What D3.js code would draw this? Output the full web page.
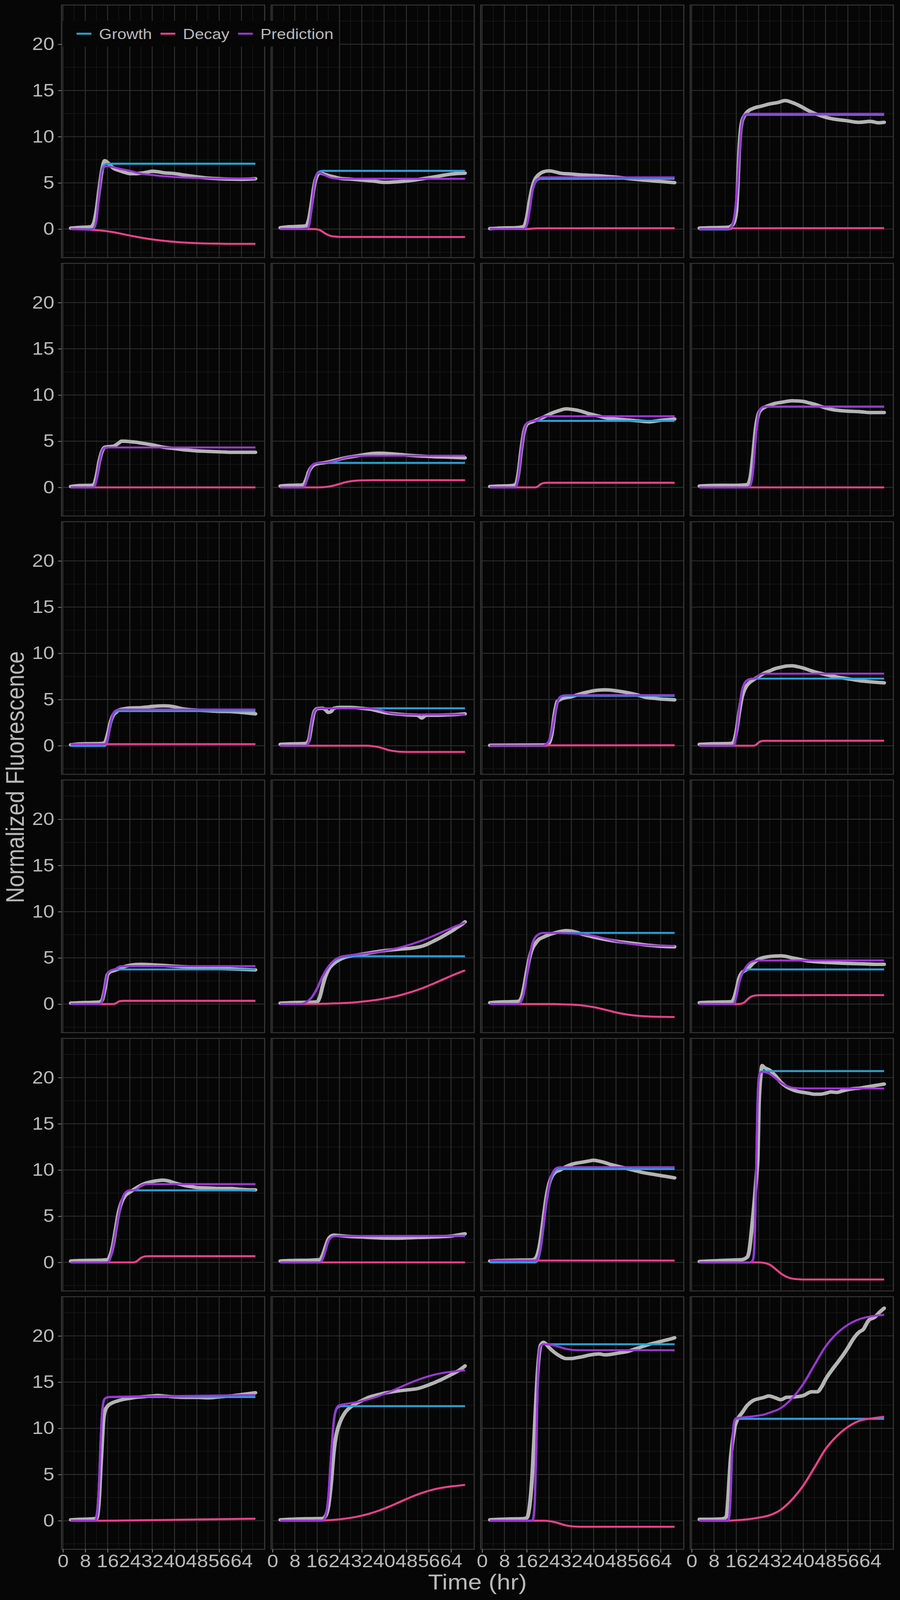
<!DOCTYPE html>
<html>
<head>
<meta charset="utf-8">
<script src="https://cdn.jsdelivr.net/npm/d3@7"></script>
<style>
  html, body { margin: 0; padding: 0; background: #060606; overflow: hidden; }
  svg { display: block; }
</style>
</head>
<body>
<div id="chart"></div>
<script>
// ---- data: one entry per panel (4 x 6 facets), points are [hour, fluorescence] ----
const observed = [
  [[2.8,0.1],[6,0.18],[9,0.22],[10,0.25],[11,0.6],[12,2.0],[13,4.3],[14,6.4],[15,7.4],[16,7.2],[17,6.9],[18,6.6],[20,6.35],[22,6.15],[24,6.0],[26,6.0],[28,6.05],[30,6.15],[32,6.25],[34,6.2],[36,6.1],[40,6.0],[44,5.82],[48,5.65],[52,5.52],[56,5.45],[60,5.4],[64,5.38],[69,5.45]],
  [[2.8,0.15],[6,0.25],[10,0.3],[12,0.35],[13,1.0],[14,2.8],[15,4.8],[16,5.8],[17,6.1],[18,6.0],[20,5.8],[22,5.65],[24,5.5],[28,5.4],[32,5.3],[36,5.2],[40,5.05],[44,5.1],[48,5.2],[52,5.35],[56,5.55],[60,5.75],[64,5.95],[69,6.05]],
  [[2.8,0.05],[8,0.12],[12,0.15],[15,0.3],[16,1.2],[17,3.0],[18,4.5],[19,5.4],[20,5.8],[21,6.05],[22,6.2],[24,6.3],[26,6.2],[28,6.05],[32,5.95],[36,5.85],[40,5.8],[44,5.72],[48,5.62],[52,5.48],[56,5.35],[60,5.25],[64,5.15],[69,5.02]],
  [[2.8,0.1],[6,0.15],[10,0.17],[13,0.2],[14,0.3],[15,0.6],[16,1.9],[16.5,4.5],[17,8.3],[17.5,10.5],[18,11.6],[19,12.3],[20,12.7],[22,13.05],[25,13.3],[28,13.55],[31,13.7],[33.5,13.9],[36,13.7],[39,13.3],[42,12.8],[45,12.4],[48,12.1],[51,11.9],[55,11.75],[60,11.55],[64,11.65],[67,11.5],[69,11.55]],
  [[2.8,0.1],[6,0.2],[10,0.22],[11,0.3],[12,1.2],[13,2.8],[14,3.9],[15,4.35],[16,4.4],[18,4.45],[20,4.8],[21,5.0],[22,5.0],[24,4.95],[26,4.9],[28,4.8],[32,4.6],[36,4.35],[40,4.2],[44,4.05],[48,3.95],[52,3.9],[56,3.85],[60,3.8],[64,3.8],[69,3.8]],
  [[2.8,0.15],[6,0.22],[10,0.25],[11,0.3],[12,0.8],[13,1.7],[14,2.2],[15,2.45],[16,2.55],[18,2.65],[20,2.75],[22,2.9],[24,3.05],[26,3.2],[28,3.3],[30,3.4],[32,3.5],[34,3.6],[38,3.7],[42,3.65],[46,3.55],[50,3.45],[54,3.38],[58,3.32],[62,3.28],[66,3.23],[69,3.2]],
  [[2.8,0.1],[6,0.15],[10,0.18],[12,0.3],[13,1.5],[14,4.0],[15,6.0],[16,6.8],[17,7.0],[18,7.1],[20,7.35],[22,7.6],[24,7.9],[26,8.15],[28,8.35],[30,8.5],[32,8.45],[34,8.35],[36,8.2],[38,8.0],[40,7.85],[42,7.7],[44,7.55],[46,7.45],[48,7.4],[52,7.3],[56,7.2],[60,7.1],[64,7.25],[69,7.4]],
  [[2.8,0.15],[6,0.2],[10,0.22],[14,0.22],[18,0.25],[20,0.3],[21,1.0],[22,3.5],[23,6.5],[24,8.0],[25,8.45],[26,8.65],[28,8.9],[30,9.1],[32,9.2],[34,9.3],[36,9.37],[38,9.35],[40,9.3],[42,9.15],[44,9.0],[46,8.8],[48,8.6],[50,8.45],[52,8.35],[56,8.25],[60,8.2],[64,8.1],[69,8.1]],
  [[2.8,0.1],[6,0.2],[10,0.22],[14,0.25],[15,0.35],[16,1.2],[17,2.5],[18,3.3],[19,3.6],[20,3.85],[22,4.0],[24,4.08],[26,4.1],[28,4.12],[30,4.18],[32,4.25],[34,4.3],[36,4.32],[38,4.3],[40,4.2],[42,4.05],[44,3.95],[48,3.85],[52,3.78],[56,3.72],[60,3.7],[64,3.6],[69,3.45]],
  [[2.8,0.15],[6,0.2],[10,0.22],[12,0.25],[13,0.6],[14,2.3],[15,3.7],[16,4.0],[18,4.05],[19,3.9],[20,3.6],[21,3.7],[22,4.05],[24,4.15],[28,4.15],[32,4.05],[36,3.9],[38,3.75],[40,3.6],[44,3.45],[48,3.35],[52,3.3],[53.5,3.0],[55,3.3],[58,3.3],[62,3.33],[66,3.38],[69,3.45]],
  [[2.8,0.05],[8,0.06],[14,0.07],[20,0.08],[23,0.1],[24,0.3],[25,1.3],[26,3.5],[27,4.8],[28,5.0],[30,5.2],[32,5.3],[34,5.5],[36,5.68],[38,5.82],[40,5.95],[42,6.02],[44,6.05],[46,6.02],[48,5.95],[50,5.85],[52,5.75],[54,5.62],[56,5.47],[58,5.28],[60,5.18],[62,5.12],[64,5.05],[66,5.02],[69,4.97]],
  [[2.8,0.15],[6,0.2],[10,0.22],[14,0.25],[15,0.4],[16,1.5],[17,3.5],[18,5.2],[19,6.1],[20,6.6],[22,7.1],[24,7.5],[26,7.85],[28,8.1],[30,8.35],[32,8.5],[34,8.62],[36,8.65],[38,8.55],[40,8.4],[42,8.2],[44,8.0],[46,7.85],[48,7.7],[52,7.45],[56,7.25],[60,7.05],[64,6.92],[69,6.8]],
  [[2.8,0.1],[6,0.15],[10,0.18],[13,0.22],[14,0.4],[15,1.6],[16,3.2],[17,3.5],[18,3.6],[20,3.8],[22,4.05],[24,4.2],[26,4.28],[28,4.3],[30,4.28],[32,4.25],[36,4.18],[40,4.1],[44,4.03],[48,3.97],[52,3.9],[56,3.85],[60,3.8],[64,3.75],[69,3.7]],
  [[2.8,0.1],[6,0.15],[10,0.18],[14,0.2],[16,0.25],[17,0.8],[18,2.0],[19,3.0],[20,3.7],[22,4.4],[24,4.8],[26,5.05],[28,5.2],[30,5.3],[32,5.4],[34,5.5],[36,5.6],[38,5.7],[40,5.78],[44,5.9],[48,6.0],[50,6.05],[52,6.15],[54,6.3],[56,6.55],[58,6.85],[60,7.15],[62,7.5],[64,7.85],[66,8.25],[68,8.65],[69,8.9]],
  [[2.8,0.15],[6,0.22],[10,0.25],[13,0.3],[14,0.6],[15,1.8],[16,3.5],[17,5.0],[18,6.0],[19,6.5],[20,6.9],[22,7.25],[24,7.5],[26,7.7],[28,7.85],[30,7.95],[32,7.9],[34,7.75],[36,7.55],[38,7.4],[40,7.25],[44,7.0],[48,6.8],[52,6.65],[56,6.5],[60,6.35],[64,6.25],[69,6.2]],
  [[2.8,0.15],[6,0.2],[10,0.22],[14,0.25],[15,0.5],[16,1.5],[17,2.8],[18,3.4],[19,3.6],[20,3.8],[22,4.4],[24,4.85],[26,5.05],[28,5.15],[30,5.2],[32,5.22],[34,5.15],[36,5.0],[38,4.9],[40,4.75],[42,4.65],[46,4.55],[50,4.48],[54,4.42],[58,4.38],[62,4.35],[66,4.3],[69,4.3]],
  [[2.8,0.15],[6,0.2],[10,0.22],[14,0.25],[16,0.3],[17,0.8],[18,2.0],[19,3.8],[20,5.5],[21,6.5],[22,7.1],[24,7.6],[26,8.0],[28,8.35],[30,8.6],[32,8.75],[34,8.85],[36,8.9],[38,8.8],[40,8.6],[42,8.45],[44,8.3],[46,8.2],[48,8.1],[52,8.05],[56,8.0],[60,8.0],[64,7.9],[69,7.85]],
  [[2.8,0.15],[6,0.2],[10,0.22],[14,0.25],[17,0.3],[18,0.8],[19,1.7],[20,2.5],[21,2.85],[22,2.95],[24,2.9],[28,2.8],[32,2.75],[36,2.68],[40,2.63],[44,2.62],[48,2.65],[52,2.7],[56,2.73],[60,2.78],[64,2.85],[67,3.0],[69,3.1]],
  [[2.8,0.15],[6,0.2],[10,0.22],[14,0.25],[18,0.28],[19,0.4],[20,1.0],[21,2.5],[22,4.8],[23,7.0],[24,8.5],[25,9.3],[26,9.7],[28,10.0],[30,10.35],[32,10.6],[34,10.75],[36,10.85],[38,10.95],[40,11.05],[42,10.95],[44,10.8],[46,10.6],[48,10.45],[50,10.3],[52,10.15],[54,10.0],[56,9.85],[58,9.7],[60,9.6],[62,9.5],[64,9.4],[66,9.3],[69,9.15]],
  [[2.8,0.1],[6,0.15],[10,0.2],[14,0.25],[18,0.3],[20,0.6],[20.6,1.2],[21.6,3.8],[22.6,7.0],[23.2,9.3],[23.7,11.5],[24.1,17.0],[24.7,20.0],[25.3,21.3],[26,21.1],[28,20.8],[30,20.2],[32,19.5],[34,19.0],[36,18.7],[38,18.5],[40,18.4],[42,18.3],[44,18.2],[46,18.2],[48,18.3],[50,18.45],[52,18.4],[54,18.55],[56,18.7],[58,18.8],[60,18.85],[62,18.95],[64,19.05],[66,19.15],[69,19.3]],
  [[2.8,0.1],[6,0.15],[10,0.2],[12,0.25],[12.5,0.8],[13,2.5],[13.5,5.5],[14,8.2],[14.5,10.8],[15,11.8],[16,12.4],[18,12.8],[20,13.0],[22,13.15],[24,13.25],[26,13.35],[28,13.4],[30,13.45],[32,13.5],[34,13.55],[36,13.5],[38,13.45],[40,13.4],[44,13.35],[48,13.35],[52,13.3],[56,13.4],[60,13.5],[64,13.65],[69,13.85]],
  [[2.8,0.1],[6,0.15],[10,0.2],[14,0.22],[18,0.25],[19,0.5],[20,1.5],[21,4.0],[22,7.5],[23,9.5],[24,10.5],[26,11.7],[28,12.3],[30,12.7],[32,13.0],[34,13.3],[36,13.5],[38,13.65],[40,13.8],[44,14.0],[48,14.15],[52,14.3],[56,14.7],[60,15.2],[64,15.8],[67,16.3],[69,16.75]],
  [[2.8,0.1],[6,0.15],[10,0.2],[14,0.22],[16,0.3],[17,1.5],[18,5.0],[19,11.0],[20,16.5],[21,19.0],[22,19.3],[23,19.1],[24,18.75],[26,18.2],[28,17.8],[30,17.55],[32,17.55],[34,17.65],[36,17.75],[38,17.9],[40,18.0],[42,18.05],[44,17.95],[46,18.0],[48,18.1],[50,18.2],[52,18.3],[54,18.5],[56,18.7],[58,18.9],[60,19.1],[62,19.25],[64,19.4],[66,19.55],[69,19.8]],
  [[2.8,0.15],[6,0.15],[10,0.18],[12,0.3],[12.5,0.5],[13,2.1],[13.5,4.6],[14,6.8],[14.5,8.2],[15,9.3],[15.5,10.2],[16.3,10.9],[18,11.65],[20,12.5],[22,13.0],[24,13.2],[26,13.35],[27.6,13.5],[30,13.3],[32,13.1],[34,13.35],[37,13.4],[40,13.55],[43,13.95],[45,13.95],[46.6,14.5],[48,15.3],[50,16.2],[52,17.0],[54,17.8],[56,18.7],[58,19.7],[60,20.4],[61.5,20.7],[63.5,21.7],[65.5,22.0],[67.5,22.6],[69,23.0]]
];

const growth = [
  [[2.8,0],[10,0],[11,0.1],[12,1.0],[13,4.0],[14,6.5],[15,7.0],[16,7.07],[69,7.07]],
  [[2.8,0],[12,0],[13,0.3],[14,2.2],[15,4.8],[16,6.0],[17,6.25],[18,6.3],[69,6.3]],
  [[2.8,0],[15,0],[16,0.4],[17,2.0],[18,4.0],[19,5.0],[20,5.35],[21,5.44],[69,5.44]],
  [[2.8,-0.05],[13,-0.05],[14,0.1],[15,0.8],[16,3.1],[16.5,5.0],[17,7.6],[17.5,9.8],[18,11.4],[18.5,12.0],[19,12.25],[20,12.37],[69,12.37]],
  [[2.8,0],[11,0],[12,0.8],[13,2.6],[14,3.9],[15,4.28],[16,4.32],[69,4.32]],
  [[2.8,0],[11,0],[12,0.5],[13,1.6],[14,2.3],[15,2.55],[16,2.63],[17,2.65],[69,2.65]],
  [[2.8,0],[12,0],[13,1.2],[14,3.8],[15,6.0],[16,6.9],[17,7.1],[18,7.2],[69,7.2]],
  [[2.8,0],[20,0],[21,0.2],[22,1.8],[23,5.5],[24,8.0],[25,8.6],[26,8.74],[69,8.74]],
  [[2.8,-0.02],[15,-0.02],[16,0.6],[17,2.2],[18,3.3],[19,3.65],[20,3.75],[69,3.75]],
  [[2.8,0],[12,0],[13,0.5],[14,2.5],[15,3.7],[16,4.0],[17,4.05],[69,4.05]],
  [[2.8,0],[22,0],[23,0.15],[24,0.5],[25,1.5],[26,3.2],[27,4.6],[28,5.2],[29,5.35],[30,5.4],[69,5.4]],
  [[2.8,0],[15,0],[16,1.2],[17,3.8],[18,5.9],[19,6.8],[20,7.1],[21,7.22],[22,7.26],[69,7.26]],
  [[2.8,0],[13,0],[14,0.3],[15,1.8],[16,3.3],[17,3.6],[18,3.72],[19,3.75],[69,3.75]],
  [[2.8,0],[10,0],[12,0.2],[14,0.7],[16,1.7],[18,3.0],[20,4.0],[22,4.65],[24,4.98],[26,5.1],[28,5.15],[30,5.17],[69,5.17]],
  [[2.8,0],[13,0],[14,0.3],[15,1.2],[16,3.0],[17,5.0],[18,6.5],[19,7.2],[20,7.5],[21,7.65],[22,7.7],[69,7.7]],
  [[2.8,0],[15,0],[16,0.8],[17,2.3],[18,3.2],[19,3.6],[20,3.72],[21,3.75],[69,3.75]],
  [[2.8,0],[16,0],[17,0.5],[18,1.8],[19,3.5],[20,5.2],[21,6.6],[22,7.4],[23,7.7],[24,7.8],[69,7.8]],
  [[2.8,0],[17,0],[18,0.4],[19,1.3],[20,2.3],[21,2.7],[22,2.82],[23,2.85],[69,2.85]],
  [[2.8,0],[19,0],[20,0.3],[21,1.5],[22,3.8],[23,6.3],[24,8.2],[25,9.3],[26,9.85],[27,10.05],[28,10.1],[69,10.1]],
  [[2.8,0],[21,0],[22,0.3],[22.5,2.0],[23,8.0],[23.5,16.0],[24,19.8],[24.5,20.5],[25,20.65],[26,20.7],[69,20.7]],
  [[2.8,0],[11.5,0],[12,0.3],[12.5,1.5],[13,4.5],[13.5,8.5],[14,11.5],[14.5,12.8],[15,13.2],[16,13.35],[17,13.38],[69,13.38]],
  [[2.8,0],[18,0],[19,0.5],[20,2.5],[21,7.0],[22,10.8],[23,12.1],[24,12.35],[25,12.4],[69,12.4]],
  [[2.8,0],[18,0],[18.5,0.5],[19,3.0],[19.5,9.0],[20,15.5],[20.5,18.3],[21,18.9],[22,19.1],[69,19.1]],
  [[2.8,0],[13,0],[13.5,0.5],[14,3.0],[14.5,7.5],[15,10.2],[15.5,10.9],[16,11.03],[69,11.03]]
];

const decay = [
  [[2.8,0],[6,-0.02],[10,-0.08],[14,-0.17],[18,-0.33],[22,-0.58],[26,-0.82],[30,-1.03],[34,-1.2],[38,-1.33],[42,-1.43],[46,-1.5],[50,-1.55],[56,-1.58],[62,-1.6],[69,-1.6]],
  [[2.8,0],[15,0],[16,-0.03],[17,-0.12],[18,-0.3],[19,-0.5],[20,-0.65],[21,-0.75],[22,-0.8],[24,-0.85],[69,-0.86]],
  [[2.8,0],[16,0],[18,0.05],[20,0.08],[69,0.09]],
  [[2.8,0],[14,0],[14.5,0.08],[69,0.1]],
  [[2.8,0],[69,0]],
  [[2.8,0],[16,0],[18,0.02],[20,0.08],[22,0.2],[24,0.37],[26,0.55],[28,0.67],[30,0.73],[32,0.76],[36,0.78],[69,0.78]],
  [[2.8,0],[19,0],[20,0.1],[21,0.35],[22,0.47],[23,0.5],[69,0.5]],
  [[2.8,0],[69,0]],
  [[2.8,0.17],[69,0.17]],
  [[2.8,0],[34,0],[36,-0.05],[38,-0.15],[40,-0.32],[42,-0.5],[44,-0.6],[46,-0.65],[48,-0.67],[69,-0.67]],
  [[2.8,0],[23,0],[24,0.04],[69,0.05]],
  [[2.8,0],[22,0],[23,0.08],[24,0.35],[25,0.5],[26,0.53],[69,0.54]],
  [[2.8,0],[18,0],[19,0.08],[20,0.28],[21,0.34],[22,0.35],[69,0.35]],
  [[2.8,0],[10,0.01],[20,0.05],[26,0.12],[30,0.2],[34,0.32],[38,0.48],[42,0.7],[46,0.98],[50,1.33],[54,1.75],[58,2.25],[62,2.78],[66,3.3],[69,3.65]],
  [[2.8,0],[24,0],[28,-0.02],[32,-0.06],[36,-0.15],[40,-0.33],[44,-0.6],[48,-0.9],[52,-1.13],[56,-1.27],[60,-1.35],[64,-1.38],[69,-1.4]],
  [[2.8,0],[17,0],[18,0.05],[19,0.2],[20,0.5],[21,0.75],[22,0.88],[23,0.94],[24,0.96],[69,0.97]],
  [[2.8,0],[25,0],[26,0.05],[27,0.25],[28,0.5],[29,0.62],[30,0.66],[31,0.67],[69,0.67]],
  [[2.8,0],[69,0]],
  [[2.8,0.2],[69,0.2]],
  [[2.8,0],[24,0],[26,-0.05],[28,-0.25],[30,-0.7],[32,-1.2],[34,-1.55],[36,-1.75],[38,-1.82],[40,-1.85],[69,-1.85]],
  [[2.8,0],[12,0],[40,0.1],[69,0.22]],
  [[2.8,0],[14,0.01],[18,0.03],[22,0.1],[26,0.22],[30,0.42],[34,0.7],[38,1.08],[42,1.55],[46,2.08],[50,2.6],[54,3.05],[58,3.4],[62,3.63],[66,3.78],[69,3.88]],
  [[2.8,0],[22,0],[24,-0.04],[26,-0.15],[28,-0.32],[30,-0.5],[32,-0.6],[34,-0.64],[36,-0.65],[69,-0.65]],
  [[2.8,0],[13,0],[16,0.05],[20,0.15],[24,0.33],[28,0.6],[32,1.2],[36,2.3],[40,3.8],[44,5.75],[48,7.75],[52,9.15],[56,10.15],[60,10.8],[64,11.05],[69,11.26]]
];

const prediction = [
  [[2.8,0],[10,-0.05],[11,0.05],[12,1.0],[13,3.9],[14,6.3],[15,6.75],[16,6.8],[18,6.7],[20,6.55],[24,6.3],[28,6.0],[32,5.85],[36,5.72],[40,5.63],[44,5.57],[48,5.53],[52,5.5],[58,5.47],[69,5.47]],
  [[2.8,0],[12,0],[13,0.3],[14,2.2],[15,4.8],[16,5.95],[17,6.1],[18,5.95],[19,5.8],[20,5.65],[21,5.55],[22,5.5],[24,5.45],[69,5.44]],
  [[2.8,0],[15,0],[16,0.4],[17,2.0],[18,4.05],[19,5.1],[20,5.45],[21,5.57],[22,5.59],[69,5.59]],
  [[2.8,0],[13,0],[14,0.2],[15,0.9],[16,3.2],[16.5,5.1],[17,7.7],[17.5,9.9],[18,11.5],[18.5,12.1],[19,12.35],[20,12.47],[69,12.47]],
  [[2.8,0],[11,0],[12,0.8],[13,2.6],[14,3.9],[15,4.28],[16,4.32],[69,4.32]],
  [[2.8,0],[11,0],[12,0.5],[13,1.6],[14,2.3],[15,2.55],[16,2.63],[18,2.67],[20,2.73],[22,2.85],[24,3.02],[26,3.2],[28,3.32],[30,3.38],[32,3.41],[36,3.43],[69,3.43]],
  [[2.8,0],[12,0],[13,1.2],[14,3.8],[15,6.0],[16,6.9],[17,7.1],[18,7.2],[19,7.22],[20,7.3],[21,7.55],[22,7.67],[23,7.7],[69,7.7]],
  [[2.8,0],[20,0],[21,0.2],[22,1.8],[23,5.5],[24,8.0],[25,8.6],[26,8.74],[69,8.74]],
  [[2.8,0.15],[15,0.15],[16,0.77],[17,2.37],[18,3.47],[19,3.82],[20,3.92],[69,3.92]],
  [[2.8,0],[12,0],[13,0.5],[14,2.5],[15,3.7],[16,4.0],[17,4.05],[34,4.05],[36,4.0],[38,3.9],[40,3.73],[42,3.55],[44,3.45],[46,3.4],[48,3.38],[69,3.38]],
  [[2.8,0],[22,0.02],[23,0.2],[24,0.55],[25,1.6],[26,3.3],[27,4.7],[28,5.3],[29,5.43],[30,5.47],[69,5.48]],
  [[2.8,0],[15,0],[16,1.2],[17,3.8],[18,5.9],[19,6.8],[20,7.1],[21,7.22],[22,7.26],[23,7.34],[24,7.6],[25,7.76],[26,7.79],[69,7.8]],
  [[2.8,0],[13,0],[14,0.3],[15,1.8],[16,3.3],[17,3.6],[18,3.72],[19,3.83],[20,4.03],[21,4.09],[22,4.1],[69,4.1]],
  [[2.8,0],[10,0.01],[12,0.21],[14,0.72],[16,1.73],[18,3.04],[20,4.05],[22,4.72],[24,5.07],[26,5.22],[28,5.3],[30,5.37],[34,5.49],[38,5.65],[42,5.87],[46,6.15],[50,6.5],[54,6.92],[58,7.42],[62,7.95],[66,8.47],[69,8.82]],
  [[2.8,0],[13,0],[14,0.3],[15,1.2],[16,3.0],[17,5.0],[18,6.5],[19,7.2],[20,7.5],[21,7.65],[22,7.7],[24,7.7],[28,7.68],[32,7.64],[36,7.55],[40,7.37],[44,7.1],[48,6.8],[52,6.57],[56,6.43],[60,6.35],[64,6.32],[69,6.3]],
  [[2.8,0],[15,0],[16,0.8],[17,2.3],[18,3.25],[19,3.8],[20,4.22],[21,4.5],[22,4.63],[23,4.69],[24,4.71],[69,4.72]],
  [[2.8,0],[16,0],[17,0.5],[18,1.8],[19,3.5],[20,5.2],[21,6.6],[22,7.4],[23,7.7],[24,7.8],[25,7.8],[26,7.85],[27,8.05],[28,8.3],[29,8.42],[30,8.46],[31,8.47],[69,8.47]],
  [[2.8,0],[17,0],[18,0.4],[19,1.3],[20,2.3],[21,2.7],[22,2.82],[23,2.85],[69,2.87]],
  [[2.8,0.2],[19,0.2],[20,0.5],[21,1.7],[22,4.0],[23,6.5],[24,8.4],[25,9.5],[26,10.05],[27,10.25],[28,10.3],[69,10.3]],
  [[2.8,0],[21,0],[22,0.3],[22.5,2.0],[23,8.0],[23.5,16.0],[24,19.8],[24.5,20.5],[25,20.62],[26,20.6],[28,20.4],[30,19.95],[32,19.45],[34,19.1],[36,18.92],[38,18.85],[40,18.83],[69,18.82]],
  [[2.8,0],[11.5,0],[12,0.3],[12.5,1.5],[13,4.5],[13.5,8.5],[14,11.5],[14.5,12.8],[15,13.2],[16,13.37],[17,13.41],[40,13.5],[69,13.6]],
  [[2.8,0],[18,0.03],[19,0.53],[20,2.55],[21,7.08],[22,10.9],[23,12.22],[24,12.5],[26,12.62],[30,12.82],[34,13.1],[38,13.48],[42,13.95],[46,14.48],[50,15.0],[54,15.45],[58,15.8],[62,16.03],[66,16.18],[69,16.28]],
  [[2.8,0],[18,0],[18.5,0.5],[19,3.0],[19.5,9.0],[20,15.5],[20.5,18.3],[21,18.9],[22,19.1],[24,19.06],[26,18.95],[28,18.78],[30,18.6],[32,18.5],[34,18.46],[36,18.45],[69,18.45]],
  [[2.8,0],[13,0],[13.5,0.5],[14,3.0],[14.5,7.5],[15,10.2],[15.5,10.95],[16,11.1],[22,11.3],[26,11.5],[28,11.7],[32,12.2],[36,13.25],[40,14.8],[44,16.85],[48,18.85],[52,20.25],[56,21.2],[60,21.8],[64,22.1],[69,22.28]]
];

const seriesNames = ["Growth", "Decay", "Prediction"];
const xTicks = [0, 8, 16, 24, 32, 40, 48, 56, 64];
const yTicks = [0, 5, 10, 15, 20];
const xLabel = "Time (hr)";
const yLabel = "Normalized Fluorescence";

// ---- look ----
const colors = { Growth: "#2a9fd8", Decay: "#e8418b", Prediction: "#9b36d2", Observed: "#b4b4b4" };
const bg = "#060606", textColor = "#b9b9b9";
const font = "'Liberation Sans', Arial, Helvetica, sans-serif";

const width = 2304, height = 4608;
const nCols = 4, nRows = 6;
const plotLeft = 157.5, plotTop = 14.5;
const panelW = 520, panelH = 727.5, gap = 16.5;

// il disegno è pensato a 2304x4608 e si adatta alla finestra reale
const svg = d3.select("#chart").append("svg")
    .attr("viewBox", `0 0 ${width} ${height}`)
    .attr("preserveAspectRatio", "none")
    .style("width", "100vw").style("height", "100vh")
    .style("font-family", font);
svg.append("rect").attr("width", width).attr("height", height).attr("fill", bg);

// scale condivise con il 5% di margine come ggplot
const allPts = [observed, growth, decay, prediction].flat(2);
const tExt = d3.extent(allPts, d => d[0]);
const vExt = d3.extent(allPts, d => d[1]);
const tPad = (tExt[1] - tExt[0]) * 0.05, vPad = (vExt[1] - vExt[0]) * 0.05;
const x = d3.scaleLinear().domain([tExt[0] - tPad, tExt[1] + tPad]).range([0, panelW]);
const y = d3.scaleLinear().domain([vExt[0] - vPad, vExt[1] + vPad]).range([panelH, 0]);

const xMinor = d3.range(4, 72, 8);
const yMinor = d3.range(-2.5, 25, 5);

const line = d3.line().x(d => x(d[0])).y(d => y(d[1])).curve(d3.curveMonotoneX);

observed.forEach((obs, i) => {
    const col = i % nCols, row = Math.floor(i / nCols);
    const g = svg.append("g")
        .attr("transform", `translate(${plotLeft + col * (panelW + gap)},${plotTop + row * (panelH + gap)})`);

    // griglia
    g.selectAll(".gx-minor").data(xMinor).join("line")
        .attr("x1", d => x(d)).attr("x2", d => x(d)).attr("y1", 0).attr("y2", panelH)
        .attr("stroke", "#1c1c1c").attr("stroke-width", 1.4);
    g.selectAll(".gy-minor").data(yMinor).join("line")
        .attr("x1", 0).attr("x2", panelW).attr("y1", d => y(d)).attr("y2", d => y(d))
        .attr("stroke", "#1c1c1c").attr("stroke-width", 1.4);
    g.selectAll(".gx-major").data(xTicks).join("line")
        .attr("x1", d => x(d)).attr("x2", d => x(d)).attr("y1", 0).attr("y2", panelH)
        .attr("stroke", "#2c2c2c").attr("stroke-width", 2.6);
    g.selectAll(".gy-major").data(yTicks).join("line")
        .attr("x1", 0).attr("x2", panelW).attr("y1", d => y(d)).attr("y2", d => y(d))
        .attr("stroke", "#2c2c2c").attr("stroke-width", 2.6);
    g.append("rect").attr("width", panelW).attr("height", panelH)
        .attr("fill", "none").attr("stroke", "#333333").attr("stroke-width", 3);

    // serie
    g.append("path").datum(obs).attr("d", line)
        .attr("fill", "none").attr("stroke", colors.Observed).attr("stroke-width", 10)
        .attr("stroke-linecap", "round").attr("stroke-linejoin", "round");
    [[growth, "Growth"], [decay, "Decay"], [prediction, "Prediction"]].forEach(([s, name]) => {
        g.append("path").datum(s[i]).attr("d", line)
            .attr("fill", "none").attr("stroke", colors[name]).attr("stroke-width", 5.7)
            .attr("stroke-linejoin", "round");
    });

    // assi
    if (col === 0) {
        const ax = g.append("g")
            .call(d3.axisLeft(y).tickValues(yTicks).tickSize(9).tickPadding(9.5));
        ax.select(".domain").remove();
        ax.selectAll(".tick line").attr("stroke", "#8a8a8a").attr("stroke-width", 2);
        ax.selectAll(".tick text").attr("fill", textColor).attr("font-size", 51).attr("font-family", font);
    }
    if (row === nRows - 1) {
        const ax = g.append("g").attr("transform", `translate(0,${panelH})`)
            .call(d3.axisBottom(x).tickValues(xTicks).tickSize(9).tickPadding(6));
        ax.select(".domain").remove();
        ax.selectAll(".tick line").attr("stroke", "#8a8a8a").attr("stroke-width", 2);
        ax.selectAll(".tick text").attr("fill", textColor).attr("font-size", 51).attr("font-family", font);
    }
});

// titoli assi
const plotBottom = plotTop + nRows * panelH + (nRows - 1) * gap;
const plotRight = plotLeft + nCols * panelW + (nCols - 1) * gap;
svg.append("text")
    .attr("x", (plotLeft + plotRight) / 2).attr("y", 4578)
    .attr("text-anchor", "middle").attr("font-size", 63).attr("fill", textColor)
    .text(xLabel);
svg.append("text")
    .attr("transform", `translate(61,${(plotTop + plotBottom) / 2}) rotate(-90)`)
    .attr("text-anchor", "middle").attr("font-size", 64).attr("fill", textColor)
    .text(yLabel);

// legenda
const legend = svg.append("g").attr("transform", "translate(160.5,60)");
legend.append("rect").attr("width", 707).attr("height", 74).attr("fill", bg);
let lx = 35.5;
seriesNames.forEach(name => {
    legend.append("line").attr("x1", lx).attr("x2", lx + 38).attr("y1", 37).attr("y2", 37)
        .attr("stroke", colors[name]).attr("stroke-width", 5.7);
    const t = legend.append("text").attr("x", lx + 57.5).attr("y", 52)
        .attr("font-size", 42).attr("fill", textColor).text(name);
    lx += 57.5 + t.node().getComputedTextLength() + 22;
});
</script>
</body>
</html>
